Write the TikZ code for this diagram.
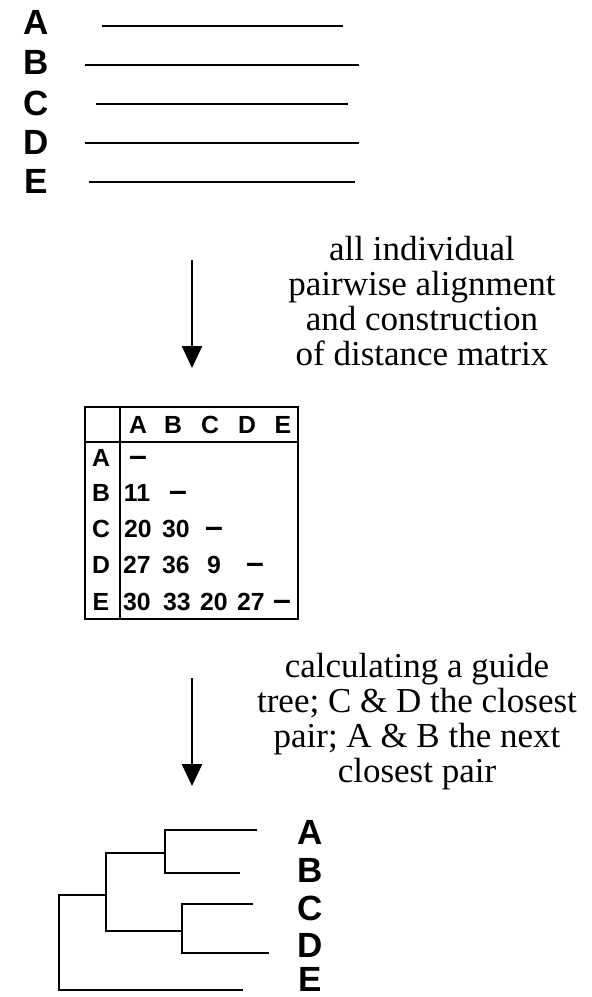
\documentclass[tikz,border=0pt]{standalone}
\usepackage{fontspec}
\setmainfont{Liberation Serif}
\setsansfont{Liberation Sans}
\usetikzlibrary{arrows.meta}

\tikzset{
  seqlabel/.style={font=\sffamily\bfseries\fontsize{17.5}{17.5}\selectfont, inner sep=0pt},
  cell/.style={font=\sffamily\bfseries\fontsize{12.4}{12.4}\selectfont, inner sep=0pt, text height=8.9pt, text depth=0pt},
  gap/.style={cell, font=\sffamily\bfseries\fontsize{16}{16}\selectfont},
  note/.style={font=\fontsize{17.5}{17.5}\selectfont, align=center, inner sep=0pt, anchor=north},
  flow/.style={line width=1.3pt, -{Triangle[width=10pt,length=11pt]}},
  seq/.style={line width=1pt},
  branch/.style={line width=1pt},
}

\begin{document}
\begin{tikzpicture}[x=0.5pt, y=-0.5pt]
    \useasboundingbox (0,0) rectangle (592,997);

    % The unaligned sequences
    \node[seqlabel] (sA) at (36,22) {A};
    \node[seqlabel] (sB) at (36,62) {B};
    \node[seqlabel] (sC) at (36,103) {C};
    \node[seqlabel] (sD) at (36,142) {D};
    \node[seqlabel] (sE) at (36,181) {E};
    \draw[seq] (102,26) -- (343,26);
    \draw[seq] (85,65) -- (359,65);
    \draw[seq] (96,104) -- (348,104);
    \draw[seq] (85,143) -- (359,143);
    \draw[seq] (89,182) -- (355,182);

    % First step
    \coordinate (a1top) at (192,260);
    \coordinate (a1end) at (192,368);
    \draw[flow] (a1top) -- (a1end);
    \node[note] (step1) at (422,236) {all individual\\pairwise alignment\\and construction\\of distance matrix};

    % Distance matrix
    \draw[line width=1pt] (85,407) rectangle (298,619);
    \draw[line width=1pt] (85,442) -- (298,442);
    \draw[line width=1pt] (120,407) -- (120,619);
    \foreach \name/\x in {A/138, B/173, C/210, D/247, E/283}
      \node[cell] (h\name) at (\x,425) {\name};
    \foreach \name/\y in {A/458, B/493, C/529, D/565, E/602}
      \node[cell] (r\name) at (101,\y) {\name};
    \node[gap] (mAA) at (138,458) {--};
    \node[cell] (mBA) at (137,493) {11};
    \node[gap] (mBB) at (178,493) {--};
    \node[cell] (mCA) at (138,529) {20};
    \node[cell] (mCB) at (176,529) {30};
    \node[gap] (mCC) at (214,529) {--};
    \node[cell] (mDA) at (137,565) {27};
    \node[cell] (mDB) at (176,565) {36};
    \node[cell] (mDC) at (214,565) {9};
    \node[gap] (mDD) at (255,565) {--};
    \node[cell] (mEA) at (137,602) {30};
    \node[cell] (mEB) at (177,602) {33};
    \node[cell] (mEC) at (214,602) {20};
    \node[cell] (mED) at (251,602) {27};
    \node[gap] (mEE) at (282,602) {--};

    % Second step
    \coordinate (a2top) at (192,678);
    \coordinate (a2end) at (192,786);
    \draw[flow] (a2top) -- (a2end);
    \node[note] (step2) at (417,653) {calculating a guide\\tree; C \& D the closest\\pair; A \& B the next\\closest pair};

    % Guide tree
    \draw[branch] (257,830) -- (165,830) -- (165,873) -- (240,873);
    \draw[branch] (253,904) -- (182,904) -- (182,953) -- (269,953);
    \draw[branch] (165,853) -- (106,853) -- (106,931) -- (182,931);
    \draw[branch] (106,895) -- (59,895) -- (59,990) -- (243,990);
    \node[seqlabel] (tA) at (310,832) {A};
    \node[seqlabel] (tB) at (310,870) {B};
    \node[seqlabel] (tC) at (310,908) {C};
    \node[seqlabel] (tD) at (310,945) {D};
    \node[seqlabel] (tE) at (310,979) {E};
\end{tikzpicture}
\end{document}
